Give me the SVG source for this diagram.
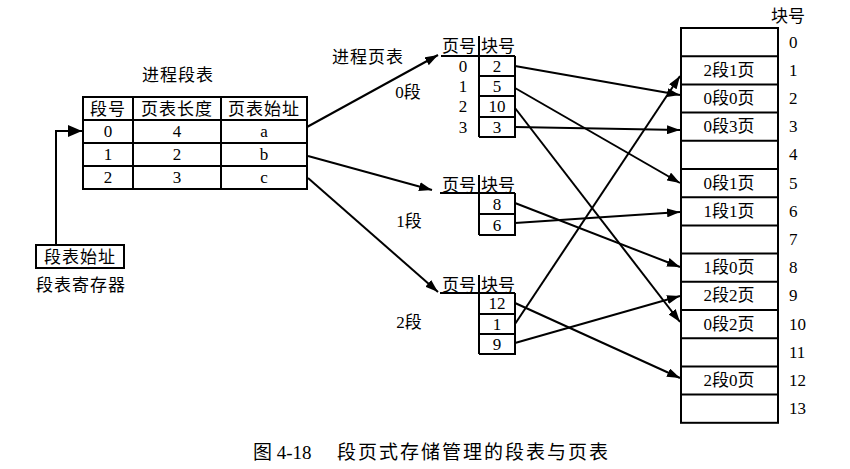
<svg xmlns="http://www.w3.org/2000/svg" width="850" height="469" viewBox="0 0 850 469">
<defs>
<style>
text{font-family:"Liberation Serif","Noto Sans CJK SC",serif;font-size:17px;fill:#000;dominant-baseline:central;text-anchor:middle}
.cjk{letter-spacing:1px}
.box{fill:#fff;stroke:#000;stroke-width:2}
.ln{stroke:#000;stroke-width:2;fill:none}
.arr{stroke:#000;stroke-width:2;fill:none;marker-end:url(#ah)}
.lbl{text-anchor:start}
</style>
<marker id="ah" viewBox="0 0 13 9" refX="13" refY="4.5" markerWidth="13" markerHeight="9" markerUnits="userSpaceOnUse" orient="auto"><path d="M0,0L13,4.5L0,9z" fill="#000"/></marker>
<marker id="ah2" viewBox="0 0 14 12" refX="14" refY="6" markerWidth="14" markerHeight="12" markerUnits="userSpaceOnUse" orient="auto"><path d="M0,0L14,6L0,12z" fill="#000"/></marker>
</defs>
<rect width="850" height="469" fill="#fff"/>

<g id="segtable">
<text x="178" y="75" class="cjk">进程段表</text>
<rect class="box" x="83" y="97" width="224" height="92"/>
<path class="ln" d="M83,120H307M83,143H307M83,166H307M133,97V189M221,97V189"/>
<text x="108" y="109" class="cjk">段号</text>
<text x="177" y="109" class="cjk">页表长度</text>
<text x="264" y="109" class="cjk">页表始址</text>
<text x="108" y="131.5">0</text><text x="177" y="131.5">4</text><text x="264" y="131.5">a</text>
<text x="108" y="154.5">1</text><text x="177" y="154.5">2</text><text x="264" y="154.5">b</text>
<text x="108" y="177.5">2</text><text x="177" y="177.5">3</text><text x="264" y="177.5">c</text>
</g>

<g id="register">
<rect class="box" x="36" y="245" width="88" height="23"/>
<text x="80" y="257" class="cjk">段表始址</text>
<text x="81" y="285" class="cjk">段表寄存器</text>
</g>

<g id="pt0">
<text x="368" y="57" class="cjk">进程页表</text>
<text x="408" y="92">0段</text>
<text x="459" y="46">页号</text>
<text x="498" y="46">块号</text>
<path class="ln" d="M441,56H515M479,36V137M479,137H515V56M479,76H515M479,96H515M479,117H515"/>
<text x="463" y="66">0</text><text x="463" y="86">1</text><text x="463" y="106.5">2</text><text x="463" y="127">3</text>
<text x="497" y="66">2</text><text x="497" y="86">5</text><text x="497" y="106.5">10</text><text x="497" y="127">3</text>
</g>

<g id="pt1">
<text x="409" y="221">1段</text>
<text x="459" y="185">页号</text>
<text x="498" y="185">块号</text>
<path class="ln" d="M440,193H515M479,175V235M479,235H515V193M479,214H515"/>
<text x="497" y="204">8</text><text x="497" y="225">6</text>
</g>

<g id="pt2">
<text x="409" y="322">2段</text>
<text x="459" y="285">页号</text>
<text x="498" y="285">块号</text>
<path class="ln" d="M440,293H515M479,275V354M479,354H515V293M479,314H515M479,334H515"/>
<text x="497" y="303.5">12</text><text x="497" y="324">1</text><text x="497" y="344">9</text>
</g>

<g id="memory">
<text x="788" y="16">块号</text>
<rect class="box" x="681" y="28" width="97" height="394.8"/>
<path class="ln" d="M681,56.2H778M681,84.4H778M681,112.6H778M681,140.8H778M681,169H778M681,197.2H778M681,225.4H778M681,253.6H778M681,281.8H778M681,310H778M681,338.2H778M681,366.4H778M681,394.6H778"/>
<text x="729" y="70.3">2段1页</text>
<text x="729" y="98.5">0段0页</text>
<text x="729" y="126.7">0段3页</text>
<text x="729" y="183.1">0段1页</text>
<text x="729" y="211.3">1段1页</text>
<text x="729" y="267.7">1段0页</text>
<text x="729" y="295.9">2段2页</text>
<text x="729" y="324.1">0段2页</text>
<text x="729" y="380.5">2段0页</text>
<text class="lbl" x="789" y="42.1">0</text>
<text class="lbl" x="789" y="70.3">1</text>
<text class="lbl" x="789" y="98.5">2</text>
<text class="lbl" x="789" y="126.7">3</text>
<text class="lbl" x="789" y="154.9">4</text>
<text class="lbl" x="789" y="183.1">5</text>
<text class="lbl" x="789" y="211.3">6</text>
<text class="lbl" x="789" y="239.5">7</text>
<text class="lbl" x="789" y="267.7">8</text>
<text class="lbl" x="789" y="295.9">9</text>
<text class="lbl" x="789" y="324.1">10</text>
<text class="lbl" x="789" y="352.3">11</text>
<text class="lbl" x="789" y="380.5">12</text>
<text class="lbl" x="789" y="408.7">13</text>
</g>

<g id="connectors">
<path class="ln" d="M56,245V131H82" style="marker-end:url(#ah2)"/>
<path class="arr" d="M307,127L438,55"/>
<path class="arr" d="M308,156L432,190"/>
<path class="arr" d="M308,178L438,292"/>
<path class="arr" d="M515,66L680,95"/>
<path class="arr" d="M515,88L680,183"/>
<path class="arr" d="M515,108L680,322"/>
<path class="arr" d="M515,127L680,130"/>
<path class="arr" d="M515,203L680,267"/>
<path class="arr" d="M515,223L680,212"/>
<path class="arr" d="M515,303L680,378"/>
<path class="arr" d="M515,324L680,76"/>
<path class="arr" d="M515,343L680,296"/>
</g>

<g id="caption">
<text x="253" y="452" class="lbl" style="font-size:19px">图 4-18</text>
<text x="337" y="452" class="lbl" style="font-size:19px;letter-spacing:2px">段页式存储管理的段表与页表</text>
</g>
</svg>
